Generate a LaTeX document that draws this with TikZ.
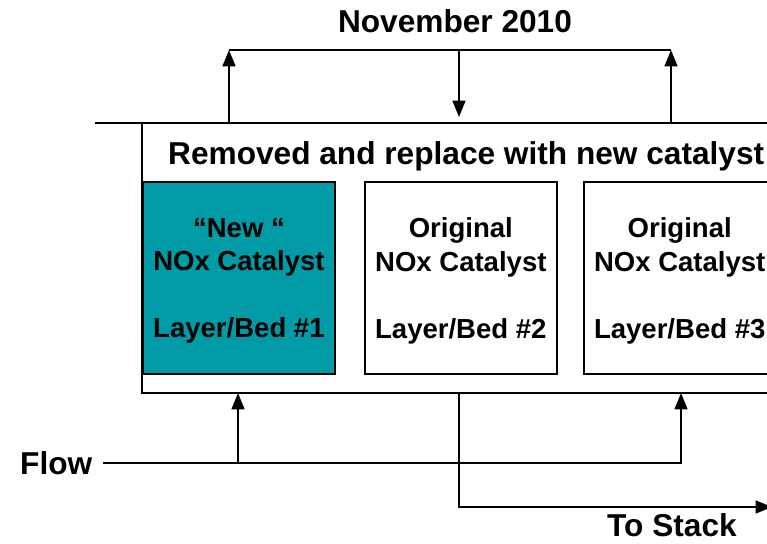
\documentclass[tikz,border=0pt]{standalone}
\usepackage{fontspec}
\setmainfont{Liberation Sans}
\usetikzlibrary{positioning, arrows.meta}
\definecolor{newcat}{RGB}{0,155,166}

\begin{document}
\begin{tikzpicture}[x=0.03cm, y=-0.03cm, node distance=0.9cm]
	% ----- Styles -----
	\tikzset{
		bed/.style={
			rectangle, draw, line width=1.6pt,
			minimum width=5.76cm, minimum height=5.76cm,
			inner sep=0pt, align=center, text depth=0pt,
			font=\fontsize{23.5}{28.5}\selectfont\bfseries
		},
		newbed/.style={bed, fill=newcat},
		oldbed/.style={bed, fill=white},
		tag/.style={inner sep=0pt, font=\fontsize{27}{32}\selectfont\bfseries},
		pipe/.style={line width=1.6pt},
		arrow/.style={pipe, -{Triangle[length=14pt, width=11pt]}}
	}
	\useasboundingbox (0,0) rectangle (767,544);
	\clip (0,0) rectangle (767,544);
	% ----- Nodes -----
	\node (reactor) [rectangle, draw, line width=1.6pt, inner sep=0pt, outer sep=0pt,
		minimum width=20.4cm, minimum height=8.1cm, anchor=north west] at (142,123) {};
	\node (title)   [tag, anchor=base]      at (455,33)  {November 2010};
	\node (removed) [tag, anchor=base west] at (168,165) {Removed and replace with new catalyst};
	\node (bed1) [newbed, anchor=north west] at (142,181) {“New “\\NOx Catalyst\\[28.5pt]Layer/Bed \#1};
	\node (bed2) [oldbed, right=0.84cm of bed1] {Original\\NOx Catalyst\\[28.5pt]Layer/Bed \#2};
	\node (bed3) [oldbed, right=0.75cm of bed2] {Original\\NOx Catalyst\\[28.5pt]Layer/Bed \#3};
	\node (flow)  [tag, anchor=base west] at (20,474)  {Flow};
	\node (stack) [tag, anchor=base west] at (607,536) {To Stack};
	% ----- Points -----
	\coordinate (stub)  at (95,123);
	\coordinate (upL)   at (229,123);
	\coordinate (upR)   at (671,123);
	\coordinate (topL)  at (229,50);
	\coordinate (topR)  at (671,50);
	\coordinate (topM)  at (459,50);
	\coordinate (dropM) at (459,117);
	\coordinate (inL)   at (238,393);
	\coordinate (inR)   at (681,393);
	\coordinate (teeL)  at (238,463);
	\coordinate (teeR)  at (681,463);
	\coordinate (outM)  at (459,393);
	\coordinate (stackEnd) at (772,507);
	% ----- Arrows -----
	\draw[pipe] (stub) -- (reactor.north west);
	\draw[arrow] (upL) -- (topL);
	\draw[arrow] (upR) -- (topR);
	\draw[pipe] (topL) -- (topR);
	\draw[arrow] (topM) -- (dropM);
	\draw[arrow, shorten <=9pt] (flow.east |- teeR) -| (inR);
	\draw[arrow] (teeL) -- (inL);
	\draw[arrow] (outM) |- (stackEnd);
\end{tikzpicture}
\end{document}
